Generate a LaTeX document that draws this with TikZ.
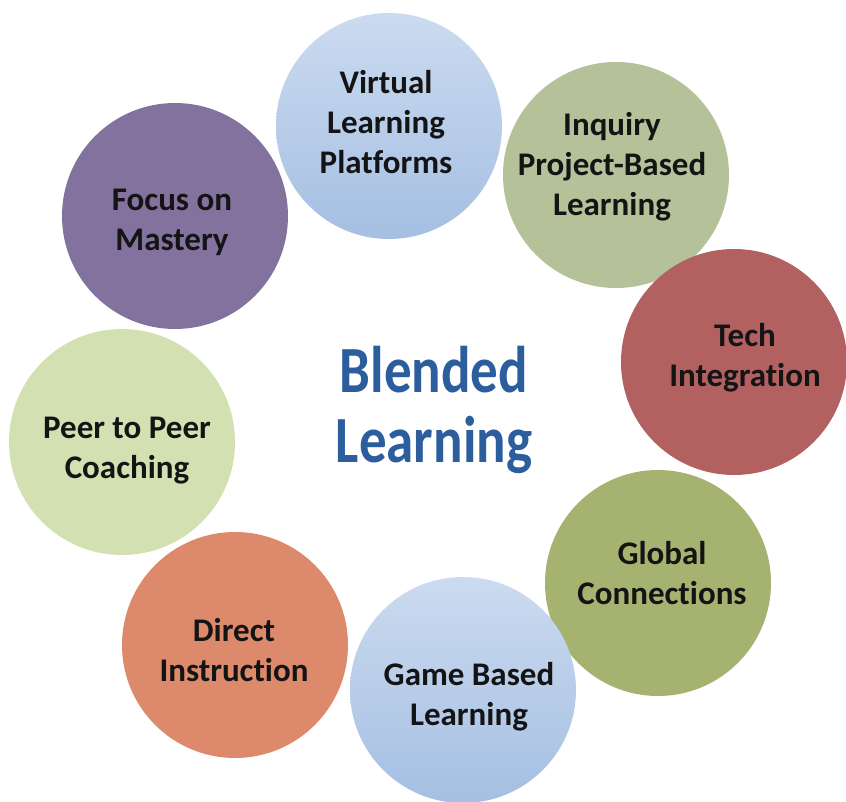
\documentclass[tikz,border=0pt]{standalone}
\usepackage{fontspec}
\setmainfont{Carlito}[Ligatures={NoCommon}]
\usepackage{graphicx}
\begin{document}
\begin{tikzpicture}[x=1pt,y=-1pt,
  bub/.style={circle, minimum size=226pt, inner sep=0pt, draw=none},
  lbl/.style={align=center, font=\bfseries\fontsize{33}{40}\selectfont, text=black!92},
  title/.style={align=center, text=titleblue}]
\definecolor{titleblue}{RGB}{44,94,158}
\definecolor{vtop}{RGB}{203,219,240}
\definecolor{vbot}{RGB}{165,191,226}
\definecolor{inq}{RGB}{181,193,153}
\definecolor{tech}{RGB}{178,97,96}
\definecolor{glob}{RGB}{165,178,112}
\definecolor{dir}{RGB}{220,137,108}
\definecolor{peer}{RGB}{211,224,178}
\definecolor{focus}{RGB}{131,114,157}
\useasboundingbox (0,0) rectangle (846,802);
\fill[white] (0,0) rectangle (846,802);
% circles
\node[bub, top color=vtop, bottom color=vbot] (c1) at (389,126) {};
\node[bub, fill=inq]   (c2) at (616,175) {};
\node[bub, fill=tech]  (c3) at (734,362) {};
\node[bub, fill=glob]  (c4) at (658,583) {};
\node[bub, top color=vtop, bottom color=vbot] (c5) at (463,690) {};
\node[bub, fill=dir]   (c6) at (235,645) {};
\node[bub, fill=peer]  (c7) at (122,442) {};
\node[bub, fill=focus] (c8) at (175,216) {};
% labels
\node[lbl] (t1) at (386,122) {Virtual\\Learning\\Platforms};
\node[lbl] (t2) at (612,167) {Inquiry\\Project-Based\\Learning};
\node[lbl] (t3) at (745,358) {Tech\\Integration};
\node[lbl] (t4) at (662,573) {Global\\Connections};
\node[lbl] (t5) at (469,697) {Game Based\\Learning};
\node[lbl] (t6) at (234,650) {Direct\\Instruction};
\node[lbl] (t7) at (127,451) {Peer to Peer\\Coaching};
\node[lbl] (t8) at (172,222) {Focus on\\Mastery};
% title
\node[title] (ttl) at (434,410) {\scalebox{1}[1.2]{\parbox{300pt}{\centering\bfseries\fontsize{55}{59}\selectfont Blended\\Learning}}};
\end{tikzpicture}
\end{document}
